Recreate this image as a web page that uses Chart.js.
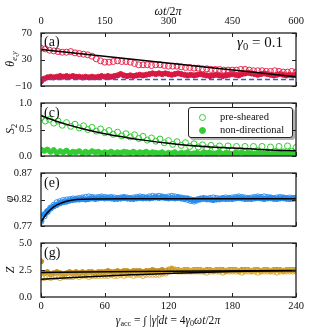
<!DOCTYPE html>
<html>
<head>
<meta charset="utf-8">
<script src="https://cdn.jsdelivr.net/npm/chart.js@4.4.0/dist/chart.umd.min.js"></script>
<style>
html,body{margin:0;padding:0;background:#fff;}
#wrap{position:relative;width:329px;height:329px;overflow:hidden;font-family:"Liberation Serif","DejaVu Serif",serif;color:#111;}
canvas{position:absolute;left:0;}
.t{position:absolute;white-space:nowrap;line-height:1;}
.c{transform:translate(-50%,-50%);}
.rot{transform:translate(-50%,-50%) rotate(-90deg);}
sub{font-size:70%;vertical-align:baseline;position:relative;top:0.3em;}
#legend{position:absolute;left:188px;top:107px;width:103px;height:29px;border:1px solid #222;border-radius:3px;background:#fff;box-shadow:2px 2px 0 rgba(0,0,0,0.3);font-size:10.5px;}
#legend .row{position:absolute;left:0;height:12px;line-height:12px;}
#legend .mk{position:absolute;left:10px;top:3px;width:5px;height:5px;border-radius:50%;border:1px solid #33cc33;}
#legend .lb{position:absolute;left:31px;top:0;white-space:nowrap;}
</style>
</head>
<body>
<div id="wrap">
<canvas id="cA" width="329" height="94" style="top:0px"></canvas>
<canvas id="cC" width="329" height="69" style="top:95px"></canvas>
<canvas id="cE" width="329" height="69" style="top:165px"></canvas>
<canvas id="cG" width="329" height="94" style="top:235px"></canvas>

<div class="t c" style="left:168px;top:11px;font-size:12px;"><i>ωt</i>/2<i>π</i></div>
<div class="t" style="left:44px;top:35px;font-size:14px;">(a)</div>
<div class="t" style="left:237px;top:35px;font-size:15px;"><i>γ</i><sub>0</sub> = 0.1</div>
<div class="t" style="left:44px;top:106px;font-size:14px;">(c)</div>
<div class="t" style="left:44px;top:176px;font-size:14px;">(e)</div>
<div class="t" style="left:44px;top:246px;font-size:14px;">(g)</div>

<div class="t rot" style="left:10px;top:59px;font-size:12px;"><i>θ</i><sub><i>e,y</i></sub></div>
<div class="t rot" style="left:10px;top:129px;font-size:12px;"><i>S</i><sub>2</sub></div>
<div class="t rot" style="left:9px;top:199px;font-size:12px;"><i>φ</i></div>
<div class="t rot" style="left:10px;top:270px;font-size:12px;"><i>Z</i></div>

<div class="t c" style="left:168px;top:321px;font-size:11.5px;"><i>γ</i><sub>acc</sub> = ∫ |<i>γ̇</i>|<i>dt</i> = 4<i>γ</i><sub>0</sub><i>ωt</i>/2<i>π</i></div>

<div id="legend">
  <div class="row" style="top:3px;"><span class="mk"></span><span class="lb">pre-sheared</span></div>
  <div class="row" style="top:16px;"><span class="mk" style="background:#33cc33;"></span><span class="lb">non-directional</span></div>
</div>
</div>

<script>
// tick values
const gammaTicks=[0,60,120,180,240];
const cycleTicks=[0,150,300,450,600];
const thetaTicks=[-10,10,30,50,70];
const s2Ticks=[0,0.5,1.0];
const phiTicks=[0.77,0.82,0.87];
const zTicks=[0,2.5,5.0];

// sampling positions in gamma_acc
const x3=Array.from({length:81},(_,i)=>i*3);
const x4=Array.from({length:61},(_,i)=>i*4);

// (a) theta_e,y
const thetaPre=[47,46,44,43,42,41,41,42,40,39, 38,37,35,31,28,26,26,27,28,27,
  27,26,24,22,22,22,21,22,22,21, 20,20,20,19,18,18,17,17,16,16,
  15,15,15,14,14,14,14,15,15,14, 13,13,13,12,12,13,12,11,11,12, 11];
const thetaNon=[-3,1,3,4,3,4,5,4,5,4, 5,4,4,3,4,3,4,3,4,5, 4,5,4,5,6,8,6,5,6,5,
  6,7,6,7,8,9,8,9,8,9, 8,7,8,9,8,7,6,7,6,7, 8,7,6,5,6,7,6,5,6,7,
  8,7,6,8,9,10,9,8,7,8, 9,8,7,6,7,8,7,6,7,6, 7];
const thetaFitX=[0,240], thetaFitY=[45,4];
const zeroX=[0,240], zeroY=[0,0];

// (c) S2
const s2Pre=[0.72,0.66,0.69,0.62,0.66,0.58,0.63,0.56,0.60,0.53,
  0.57,0.50,0.54,0.47,0.51,0.44,0.48,0.41,0.45,0.38,
  0.42,0.36,0.40,0.33,0.37,0.30,0.34,0.28,0.32,0.25,
  0.29,0.22,0.27,0.20,0.25,0.18,0.23,0.17,0.21,0.15,
  0.20,0.14,0.19,0.12,0.19,0.11,0.18,0.10,0.18,0.09,
  0.18,0.10,0.18,0.08,0.17,0.09,0.18,0.08,0.19,0.09, 0.16];
const s2Non=[0.12,0.10,0.12,0.08,0.11,0.06,0.09,0.07,0.10,0.06,
  0.08,0.07,0.09,0.05,0.08,0.06,0.09,0.07,0.08,0.05,
  0.07,0.06,0.08,0.05,0.07,0.06,0.08,0.07,0.06,0.08,
  0.05,0.07,0.06,0.08,0.05,0.07,0.06,0.05,0.07,0.04,
  0.06,0.05,0.07,0.04,0.06,0.05,0.07,0.04,0.05,0.06,
  0.04,0.07,0.05,0.06,0.04,0.05,0.07,0.04,0.06,0.05,
  0.04,0.06,0.05,0.07,0.04,0.06,0.05,0.04,0.06,0.05,
  0.04,0.06,0.03,0.05,0.04,0.06,0.05,0.04,0.06,0.05, 0.04];
const s2FitX=[0,20,40,60,80,100,120,140,160,180,200,220,240];
const s2FitY=[0.76,0.62,0.51,0.42,0.35,0.29,0.24,0.20,0.17,0.15,0.13,0.11,0.10];

// (e) phi
const phiPre=[0.779,0.789,0.797,0.804,0.809,0.814,0.816,0.818,0.819,0.820,
  0.821,0.821,0.822,0.823,0.824,0.825,0.824,0.823,0.824,0.825,
  0.824,0.823,0.824,0.823,0.822,0.823,0.824,0.823,0.822,0.823,
  0.824,0.825,0.824,0.823,0.825,0.826,0.825,0.826,0.825,0.824,
  0.825,0.826,0.825,0.824,0.823,0.822,0.820,0.818,0.817,0.819,
  0.821,0.822,0.821,0.822,0.823,0.822,0.821,0.822,0.823,0.822,
  0.823,0.824,0.825,0.824,0.823,0.822,0.823,0.824,0.825,0.824,
  0.825,0.824,0.823,0.822,0.823,0.824,0.823,0.822,0.823,0.822, 0.823];
const phiNon=[0.781,0.792,0.798,0.803,0.807,0.810,0.813,0.815,0.816,0.818,
  0.819,0.820,0.820,0.821,0.820,0.821,0.822,0.821,0.822,0.823,
  0.822,0.823,0.822,0.821,0.822,0.822,0.823,0.822,0.822,0.821,
  0.822,0.823,0.822,0.823,0.822,0.823,0.824,0.823,0.824,0.823,
  0.822,0.823,0.822,0.823,0.822,0.821,0.822,0.820,0.819,0.820,
  0.821,0.822,0.821,0.820,0.819,0.820,0.821,0.822,0.821,0.822,
  0.821,0.822,0.823,0.822,0.821,0.822,0.821,0.822,0.823,0.822,
  0.821,0.822,0.823,0.822,0.821,0.822,0.823,0.822,0.821,0.822, 0.822];
const phiFitX=[0,3,6,9,12,15,20,25,30,40,50,80,240];
const phiFitY=[0.777,0.787,0.795,0.801,0.806,0.810,0.814,0.817,0.819,0.8205,0.821,0.8215,0.8215];

// (g) Z
const zPre=[1.8,1.8,1.9,1.8,1.9,1.9,1.8,1.9,1.9,1.9,
  1.9,2.0,1.9,2.0,2.0,1.9,2.0,2.0,2.0,2.0,
  2.0,2.0,2.1,2.0,2.0,2.1,2.0,2.1,2.1,2.0,
  2.1,2.1,2.0,2.1,2.1,2.1,2.1,2.1,2.2,2.2,
  2.5,2.6,2.5,2.4,2.4,2.4,2.4,2.4,2.4,2.4,
  2.4,2.4,2.3,2.4,2.4,2.4,2.4,2.3,2.4,2.4,
  2.4,2.4,2.4,2.3,2.4,2.4,2.4,2.4,2.3,2.4,
  2.4,2.4,2.4,2.4,2.3,2.4,2.4,2.4,2.4,2.4, 2.4];
const zNon=[3.3,2.2,2.3,2.1,2.2,2.3,2.2,2.1,2.2,2.3,
  2.2,2.3,2.2,2.3,2.2,2.3,2.3,2.2,2.3,2.3,
  2.3,2.4,2.3,2.3,2.4,2.3,2.4,2.4,2.3,2.4,
  2.4,2.4,2.3,2.4,2.4,2.5,2.4,2.4,2.5,2.4,
  2.5,2.6,2.5,2.5,2.4,2.5,2.5,2.4,2.5,2.5,
  2.5,2.4,2.5,2.5,2.4,2.5,2.5,2.5,2.4,2.5,
  2.5,2.5,2.4,2.5,2.5,2.5,2.4,2.5,2.5,2.4,
  2.5,2.5,2.4,2.5,2.5,2.5,2.4,2.5,2.5,2.5, 2.5];
const zFitPreX=[0,30,60,90,120,150,180,210,240];
const zFitPreY=[1.65,1.8,1.95,2.07,2.18,2.28,2.35,2.4,2.43];
const zFitNonX=[0,120,240], zFitNonY=[2.28,2.38,2.45];

const SERIF='"Liberation Serif","DejaVu Serif",serif';
const tickFont={family:SERIF,size:10.5};

function pts(xs,ys){return xs.map((x,i)=>({x:x,y:ys[i]}));}

function openSet(xs,ys,color){
  return {data:pts(xs,ys),pointRadius:3,pointBorderWidth:1,pointBorderColor:color,
    pointBackgroundColor:'rgba(0,0,0,0)',showLine:false,clip:0,order:2};
}
function filledSet(xs,ys,color){
  return {data:pts(xs,ys),pointRadius:2.6,pointBorderWidth:1,pointBorderColor:color,
    pointBackgroundColor:color,showLine:false,clip:0,order:3};
}
function lineSet(xs,ys,color,dash,order){
  return {data:pts(xs,ys),showLine:true,pointRadius:0,borderColor:color,borderWidth:1.5,
    borderDash:dash||[],cubicInterpolationMode:'monotone',clip:0,order:order||1};
}

// axes frame with inward ticks, like the original
const frame={
  id:'frame',
  afterDatasetsDraw(chart){
    const ctx=chart.ctx,a=chart.chartArea;
    ctx.save();
    ctx.strokeStyle='#222';
    ctx.lineWidth=1;
    const sx=chart.scales.x,sy=chart.scales.y;
    ctx.beginPath();
    sx.ticks.forEach(t=>{const p=Math.round(sx.getPixelForValue(t.value))+0.5;
      ctx.moveTo(p,a.bottom);ctx.lineTo(p,a.bottom-4);ctx.moveTo(p,a.top);ctx.lineTo(p,a.top+4);});
    sy.ticks.forEach(t=>{const p=Math.round(sy.getPixelForValue(t.value))+0.5;
      ctx.moveTo(a.left,p);ctx.lineTo(a.left+4,p);ctx.moveTo(a.right,p);ctx.lineTo(a.right-4,p);});
    ctx.stroke();
    ctx.lineWidth=1.3;
    ctx.strokeRect(a.left,a.top,a.right-a.left,a.bottom-a.top);
    ctx.restore();
  }
};

// keep the plot box exactly where the layout padding puts it
function noPad(s){s.paddingTop=0;s.paddingBottom=0;s.paddingLeft=0;s.paddingRight=0;}

function panel(id,yTicks,yFmt,datasets,o){
  const scales={
    x:{type:'linear',position:'bottom',min:0,max:240,
      ticks:{display:!!o.bottom,font:tickFont,color:'#111',padding:3,maxRotation:0},
      afterBuildTicks:s=>{s.ticks=gammaTicks.map(v=>({value:v}));},
      grid:{display:false,drawTicks:false},border:{display:false},
      afterFit:s=>{s.height=o.bottom?32:0;noPad(s);}},
    y:{type:'linear',min:yTicks[0],max:yTicks[yTicks.length-1],
      ticks:{font:tickFont,color:'#111',padding:9,callback:yFmt},
      afterBuildTicks:s=>{s.ticks=yTicks.map(v=>({value:v}));},
      grid:{display:false,drawTicks:false},border:{display:false},
      afterFit:s=>{s.width=41;noPad(s);}}
  };
  if(o.top){
    scales.x2={type:'linear',position:'top',min:0,max:600,
      ticks:{font:tickFont,color:'#111',padding:5,maxRotation:0},
      afterBuildTicks:s=>{s.ticks=cycleTicks.map(v=>({value:v}));},
      grid:{display:false,drawTicks:false},border:{display:false},
      afterFit:s=>{s.height=33;noPad(s);}};
  }
  return new Chart(document.getElementById(id),{
    type:'scatter',
    data:{datasets:datasets},
    options:{responsive:false,animation:false,events:[],
      layout:{padding:{left:0,right:33,top:o.padTop,bottom:o.padBottom}},
      plugins:{legend:{display:false},tooltip:{enabled:false}},
      scales:scales},
    plugins:[frame]
  });
}

const RED='#e8284f',RED_F='#d81840',GREEN='#33cc33',BLUE='#2f8ff0',BLUE_F='#1e88f0',GOLD='#dcae3a',GOLD_F='#c0901c';

panel('cA',thetaTicks,v=>v<0?'\u2212'+Math.abs(v):String(v),[
  lineSet(thetaFitX,thetaFitY,'#000'),
  lineSet(zeroX,zeroY,'#3a55e6',[5,3],1),
  openSet(x4,thetaPre,RED),
  filledSet(x3,thetaNon,RED_F)
],{top:true,padTop:0,padBottom:8});

panel('cC',s2Ticks,v=>v.toFixed(1),[
  lineSet(s2FitX,s2FitY,'#000'),
  openSet(x4,s2Pre,GREEN),
  filledSet(x3,s2Non,GREEN)
],{padTop:8,padBottom:8});

panel('cE',phiTicks,v=>v.toFixed(2),[
  lineSet(phiFitX,phiFitY,'#000'),
  openSet(x3,phiPre,BLUE),
  filledSet(x3,phiNon,BLUE_F)
],{padTop:8,padBottom:8});

panel('cG',zTicks,v=>v.toFixed(1),[
  lineSet(zFitPreX,zFitPreY,'#000'),
  lineSet(zFitNonX,zFitNonY,'#000'),
  openSet(x3,zPre,GOLD),
  filledSet(x3,zNon,GOLD_F)
],{bottom:true,padTop:8,padBottom:0});
</script>
</body>
</html>
